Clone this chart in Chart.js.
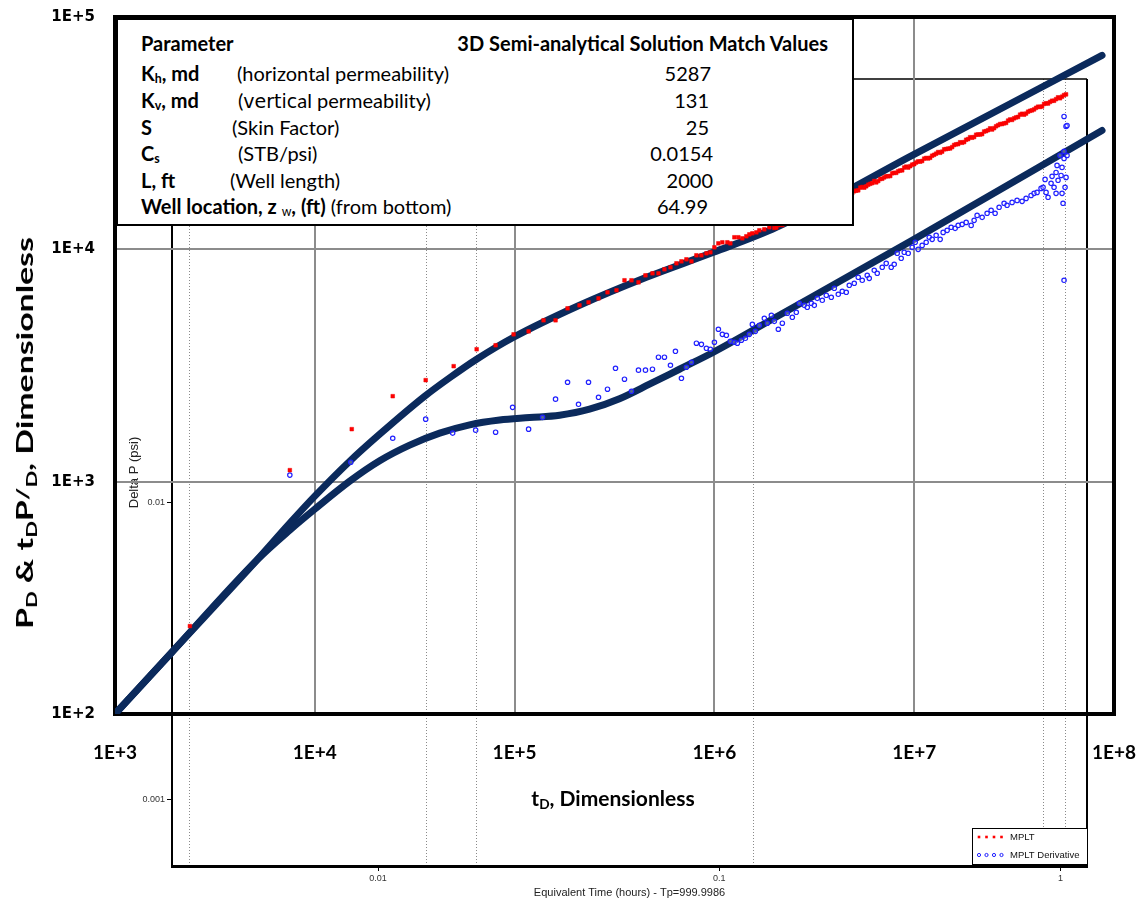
<!DOCTYPE html>
<html>
<head>
<meta charset="utf-8">
<script src="https://cdn.jsdelivr.net/npm/chart.js@4.4.1/dist/chart.umd.min.js"></script>
<style>
html,body{margin:0;padding:0;background:#fff;}
#wrap{position:relative;width:1138px;height:904px;overflow:hidden;font-family:Lato,'Liberation Sans',sans-serif;color:#000;}
canvas{position:absolute;left:0;top:0;}
#inner{z-index:1}
#outer{z-index:2}
.tbl{position:absolute;left:116px;top:18px;width:734px;height:204px;border:2px solid #000;background:#fff;z-index:3;}
.t{position:absolute;font-size:20px;line-height:20px;white-space:nowrap;}
.r{transform:translateX(-100%);}
.b{font-weight:700;}
.t sub{font-size:62%;vertical-align:-0.2em;line-height:0;}
.ttl{position:absolute;z-index:3;font-family:Lato,'Liberation Sans',sans-serif;font-weight:700;white-space:nowrap;line-height:1;}
.ttl sub{font-size:65%;vertical-align:-0.25em;line-height:0;}
.ttl sup{font-size:80%;vertical-align:0.25em;line-height:0;}
#ytitle{left:25px;top:433px;font-size:22px;transform-origin:50% 50%;}
#xtitle{left:613px;top:797px;font-size:21px;transform:translate(-50%,-50%);}
</style>
</head>
<body>
<div id="wrap">
  <canvas id="inner" width="1138" height="904"></canvas>
  <canvas id="outer" width="1138" height="904"></canvas>
  <div class="tbl">
    <div class="t b" style="left:23px;top:13px">Parameter</div>
    <div class="t b r" style="left:710px;top:13px">3D Semi-analytical Solution Match Values</div>

    <div class="t b" style="left:23px;top:43px">K<sub>h</sub>, md</div>
    <div class="t" style="left:119px;top:43px">(horizontal permeability)</div>
    <div class="t r" style="left:593px;top:43px">5287</div>

    <div class="t b" style="left:23px;top:70px">K<sub>v</sub>, md</div>
    <div class="t" style="left:120px;top:70px">(<span style="font-family:'DejaVu Sans';font-size:19px">vertic</span>al permeability)</div>
    <div class="t r" style="left:591px;top:70px">131</div>

    <div class="t b" style="left:23px;top:97px">S</div>
    <div class="t" style="left:114px;top:97px">(Skin Factor)</div>
    <div class="t r" style="left:591px;top:97px">25</div>

    <div class="t b" style="left:23px;top:123px">C<sub>s</sub></div>
    <div class="t" style="left:120px;top:123px">(STB/psi)</div>
    <div class="t r" style="left:595px;top:123px">0.0154</div>

    <div class="t b" style="left:23px;top:150px">L, ft</div>
    <div class="t" style="left:112px;top:150px">(Well length)</div>
    <div class="t r" style="left:595px;top:150px">2000</div>

    <div class="t" style="left:23px;top:176px"><span class="b">Well location, z <sub style="font-weight:400">w</sub>, (ft)</span> (from bottom)</div>
    <div class="t r" style="left:590px;top:176px">64.99</div>
  </div>
  <div id="ytitle" class="ttl">P<sub>D</sub> &amp; t<sub>D</sub>P<sup>/</sup><sub>D</sub>, Dimensionless</div>
  <div id="xtitle" class="ttl">t<sub>D</sub>, Dimensionless</div>
</div>
<script>
// ---------------- Data ----------------
// Outer (dimensionless) axes
const outerXTicks = [1e3, 1e4, 1e5, 1e6, 1e7, 1e8];
const outerYTicks = [1e2, 1e3, 1e4, 1e5];

// Inner (field units) axes
const innerXLabeledTicks = [0.01, 0.1, 1];
const innerYLabeledTicks = [0.001, 0.01];
const innerMarkerTimes = [0.00281, 0.01382, 0.01937, 0.1258, 0.892, 1.034];

// 3D semi-analytical model: P_D
const modelPdT = [1000, 1928, 5129, 7499, 10000, 14960, 21130, 35480, 47320, 64570,
                  98860, 211300, 457100, 988600, 2042000, 9772000, 87100000];
const modelPdV = [100, 184.8, 459.6, 663, 866.2, 1225, 1601, 2332, 2801, 3365,
                  4183, 5742, 7580, 9707, 12430, 25370, 68300];

// 3D semi-analytical model: derivative t_D P'_D
const modelDerT = [1000, 1928, 5129, 7499, 10000, 14960, 21130, 29850, 42170, 59570,
                   84140, 118900, 167900, 237100, 335000, 473200, 668300, 988600, 2113000, 9772000, 87100000];
const modelDerV = [100, 184.8, 459.6, 618.6, 761.6, 1005, 1230, 1436, 1617, 1757,
                   1842, 1887, 1932, 2050, 2275, 2627, 3047, 3606, 5201, 10930, 32500];

// MPLT pressure data
const mpltT = [
  2371, 7500, 15310, 24550, 35890, 49550, 64570, 80350, 98860, 117500,
  139600, 160300, 184100, 211300, 234400, 263000, 291700, 323600, 354800, 384600,
  416900, 451900, 489800, 524800, 562300, 602600, 645700, 683900, 724400, 767400,
  812800, 861000, 912000, 955000, 1000000, 1047000, 1096000, 1161000, 1202000, 1259000,
  1318000, 1380000, 1445000, 1496000, 1549000, 1622000, 1679000, 1778000, 1884000,
  1995000, 2089000, 2188000, 2291000, 2399000, 2512000, 2630000, 2754000, 2884000, 3020000,
  3162000, 3311000, 3467000, 3631000, 3802000, 3981000, 4169000, 4365000, 4571000, 4786000,
  5012000, 5248000, 5495000, 5754000, 6026000, 6310000, 6607000, 6918000, 7244000, 7586000,
  7943000, 8318000, 8710000, 9120000, 9550000, 1.0e7, 1.047e7, 1.096e7, 1.148e7, 1.202e7,
  1.259e7, 1.318e7, 1.380e7, 1.445e7, 1.514e7, 1.585e7, 1.660e7, 1.738e7, 1.820e7, 1.905e7,
  1.995e7, 2.089e7, 2.188e7, 2.291e7, 2.399e7, 2.512e7, 2.630e7, 2.754e7, 2.884e7, 3.020e7,
  3.162e7, 3.311e7, 3.467e7, 3.631e7, 3.802e7, 3.981e7, 4.169e7, 4.365e7, 4.571e7, 4.786e7,
  5.012e7, 5.248e7, 5.495e7, 5.754e7,
  2042000, 2138000, 2239000, 2344000, 2455000, 2570000, 2692000, 2818000, 2951000, 3090000,
  3236000, 3388000, 3548000, 3715000, 3890000, 4074000, 4266000, 4467000, 4677000, 4898000,
  5129000, 5370000, 5623000, 5888000, 6166000, 6457000, 6761000, 7079000, 7413000, 7762000,
  8128000, 8511000, 8913000, 9333000, 9772000, 1.023e7, 1.072e7, 1.122e7, 1.175e7, 1.230e7,
  1.288e7, 1.349e7, 1.413e7, 1.479e7, 1.549e7, 1.622e7, 1.698e7, 1.778e7, 1.862e7, 1.950e7,
  2.042e7, 2.138e7, 2.239e7, 2.344e7, 2.455e7, 2.570e7, 2.692e7, 2.818e7, 2.951e7, 3.090e7,
  3.236e7, 3.388e7, 3.548e7, 3.715e7, 3.890e7, 4.074e7, 4.266e7, 4.467e7, 4.677e7, 4.898e7,
  5.129e7, 5.370e7, 5.623e7
];
const mpltV = [
  239, 1121, 1683, 2333, 2735, 3141, 3715, 3864, 4306, 4436,
  4950, 4950, 5572, 5741, 5916, 6152, 6531, 6668, 7358, 7358,
  7211, 7728, 7885, 7885, 8204, 8368, 8705, 8878, 9056, 8878,
  9423, 9423, 9613, 9708, 10200, 10610, 10720, 10720, 10610, 11270,
  11270, 11150, 11380, 11600, 11720, 11830, 12070, 12190, 12440,
  12360, 12700, 12720, 13110, 13470, 13460, 13800, 13890, 14380, 14540,
  14970, 14960, 15420, 15600, 16060, 16050, 16500, 16920, 17030, 17630,
  17780, 17940, 18560, 18680, 19150, 19690, 19680, 20130, 20630, 20680,
  21350, 21690, 21880, 22700, 22800, 23260, 23910, 24010, 24730, 24780,
  25520, 26230, 26340, 27010, 27180, 28130, 28380, 28760, 29620, 30380,
  30440, 31210, 31340, 32280, 33170, 33240, 34230, 34620, 35010, 36230,
  36630, 37130, 38330, 38410, 39470, 40020, 41110, 41200, 42530, 43110,
  43590, 45110, 45410, 46450,
  12410, 12790, 12960, 13040, 13460, 13800, 13860, 14250, 14310, 14810,
  14940, 15150, 15670, 15810, 15950, 16430, 16810, 16920, 17380, 17500,
  17890, 18440, 18430, 18980, 19280, 19410, 20080, 20400, 20630, 21250,
  21340, 21840, 22490, 22480, 23160, 23640, 23850, 24570, 24610, 25290,
  25810, 26040, 26950, 27130, 27560, 28320, 28900, 28960, 29820, 30230,
  31140, 31210, 32140, 32580, 32790, 33860, 34620, 34860, 35820, 36060,
  36970, 38000, 37980, 39120, 39650, 40650, 41010, 42250, 42420, 43610,
  44300, 44700, 46130
];

// MPLT derivative data
const mpltDerT = [
  7500, 15140, 24550, 35890, 48980, 63830, 80350, 97720, 117500, 138000,
  160300, 184100, 208900, 234400, 263000, 291700, 319900, 354800, 384600, 416900,
  451900, 489800, 524800, 562300, 602600, 638300, 683900, 724400, 767400, 812800,
  861000, 912000, 955000, 1000000, 1047000, 1096000, 1148000, 1202000, 1259000, 1303000,
  1365000, 1429000, 1496000, 1549000, 1603000, 1679000, 1778000, 1841000, 1928000, 1995000,
  2089000, 2188000, 2317000, 2455000, 2570000, 2661000, 2818000, 2917000, 3055000, 3162000,
  3273000, 3467000, 3631000, 3846000, 3981000, 4169000, 4365000, 4571000, 4732000, 5012000,
  5248000, 5495000, 5821000, 5957000, 6310000, 6531000, 6918000, 7244000, 7674000, 7943000,
  8222000, 8610000, 8913000, 9333000, 9772000, 1.012e7, 1.047e7, 1.096e7, 1.148e7, 1.189e7,
  1.230e7, 1.288e7, 1.349e7, 1.396e7, 1.462e7, 1.531e7, 1.603e7, 1.660e7, 1.738e7, 1.820e7,
  1.928e7, 1.995e7, 2.065e7, 2.188e7, 2.317e7, 2.427e7, 2.541e7, 2.661e7, 2.818e7, 2.917e7,
  3.090e7, 3.273e7, 3.467e7, 3.631e7, 3.846e7, 3.981e7, 4.121e7, 4.315e7, 4.416e7, 4.519e7,
  4.571e7, 4.677e7, 4.842e7, 4.898e7, 5.012e7, 5.129e7, 5.129e7, 5.188e7, 5.248e7, 5.370e7,
  5.433e7, 5.495e7, 5.495e7, 5.559e7, 5.623e7, 5.623e7, 5.689e7, 5.623e7, 5.623e7, 5.754e7,
  5.821e7, 5.754e7, 5.821e7
];
const mpltDerV = [
  1067, 1213, 1538, 1858, 1618, 1666, 1633, 2089, 1683, 1892,
  2265, 2679, 2153, 2679, 2307, 2500, 3076, 2761, 2449, 3020,
  3020, 3048, 3433, 3433, 3170, 3640, 2786, 3108, 3266, 3945,
  3899, 3750, 3715, 3981, 4529, 4306, 4266, 4018, 3981, 3945,
  4064, 4140, 4306, 4753, 4436, 4710, 5047, 4808, 5200, 4898,
  4529, 4808, 5305, 5099, 5358, 5857, 5741, 5630, 5857, 5741,
  6152, 6035, 6342, 6217, 6797, 6405, 6597, 6531, 7000, 7141,
  7580, 7358, 7728, 7502, 8123, 7885, 8368, 8705, 8368, 8620,
  9613, 9149, 9708, 9613, 10200, 10720, 10000, 10400, 10720, 11270,
  11040, 11490, 11040, 11830, 12070, 12440, 12310, 12680, 12810, 13060,
  12680, 13330, 14000, 13730, 14290, 14720, 14290, 15170, 15780, 15470,
  15920, 16240, 16090, 16570, 17060, 17420, 17580, 18290, 18490, 20000,
  17580, 16750, 19230, 20610, 18490, 21430, 17420, 22970, 19820, 25360,
  20800, 22530, 17420, 15780, 26400, 24620, 18490, 7358, 37330, 33810,
  34140, 20400, 25360
];

// ---------------- helpers ----------------
const pts = (xs, ys) => xs.map((x, i) => ({x: x, y: ys[i]}));
const fmtE = v => '1E+' + Math.round(Math.log10(v));
const SMALL = "'Liberation Sans', Arial, sans-serif";
const TRANSP = 'rgba(0,0,0,0)';
const isLabeledX = v => innerXLabeledTicks.some(t => Math.abs(t - v) / t < 1e-6);

// ---------------- inner (background) chart ----------------
const innerFrame = {
  id: 'innerFrame',
  afterDraw(chart) {
    const {ctx, chartArea: a} = chart;
    ctx.save();
    ctx.strokeStyle = '#000';
    ctx.lineWidth = 1.5;
    ctx.beginPath(); ctx.moveTo(a.left, a.top); ctx.lineTo(a.right, a.top); ctx.stroke();
    ctx.lineWidth = 2;
    ctx.beginPath(); ctx.moveTo(a.right, a.top); ctx.lineTo(a.right, a.bottom); ctx.stroke();
    ctx.restore();
  }
};
const boxLegend = {
  id: 'boxLegend',
  afterDraw(chart) {
    const {ctx, chartArea: a} = chart;
    const w = 115, h = 36, x = a.right - w, y = a.bottom - h - 2;
    ctx.save();
    ctx.fillStyle = '#fff';
    ctx.fillRect(x, y, w, h);
    ctx.strokeStyle = '#000'; ctx.lineWidth = 1;
    ctx.strokeRect(x + 0.5, y + 0.5, w, h);
    chart.data.datasets.forEach((ds, i) => {
      const cy = y + 9 + i * 18;
      for (let k = 0; k < 4; k++) {
        const cx = x + 7 + k * 7.5;
        if (ds.pointStyle === 'rect') {
          ctx.fillStyle = ds.borderColor;
          ctx.fillRect(cx - 1.3, cy - 1.3, 2.6, 2.6);
        } else {
          ctx.strokeStyle = ds.borderColor; ctx.lineWidth = 1;
          ctx.beginPath(); ctx.arc(cx, cy, 1.6, 0, Math.PI * 2); ctx.stroke();
        }
      }
      ctx.fillStyle = '#111';
      ctx.font = '9.5px ' + SMALL;
      ctx.textBaseline = 'middle';
      ctx.fillText(ds.label, x + 38, cy);
    });
    ctx.restore();
  }
};

new Chart(document.getElementById('inner'), {
  type: 'scatter',
  data: {
    datasets: [
      {label: 'MPLT', data: [], pointStyle: 'rect', borderColor: '#ff0000', backgroundColor: '#ff0000'},
      {label: 'MPLT Derivative', data: [], pointStyle: 'circle', borderColor: '#2020ff', backgroundColor: TRANSP}
    ]
  },
  options: {
    responsive: false, animation: false, devicePixelRatio: 1,
    layout: {padding: {left: 0, top: 79, right: 51, bottom: 0}},
    plugins: {legend: {display: false}, tooltip: {enabled: false}},
    scales: {
      x: {
        type: 'logarithmic', position: 'bottom', min: 0.00249, max: 1.195,
        afterFit(s) { s.height = 38; },
        afterBuildTicks(s) {
          s.ticks = innerXLabeledTicks.concat(innerMarkerTimes).sort((p, q) => p - q).map(v => ({value: v}));
        },
        ticks: {
          autoSkip: false, maxRotation: 0, padding: 2, color: '#333',
          font: {family: SMALL, size: 9},
          callback: v => (isLabeledX(v) ? String(v) : '')
        },
        grid: {
          drawOnChartArea: true, drawTicks: true, tickLength: 5, lineWidth: 1, tickWidth: 1,
          color: c => (c.tick && !isLabeledX(c.tick.value) ? '#8a8a8a' : TRANSP),
          tickColor: c => (c.tick && isLabeledX(c.tick.value) ? '#000' : TRANSP)
        },
        border: {display: true, color: '#000', width: 3, dash: [1, 2]},
        title: {
          display: true, text: 'Equivalent Time (hours) - Tp=999.9986', color: '#222',
          font: {family: SMALL, size: 11}, padding: {top: 0, bottom: 4}
        }
      },
      y: {
        type: 'logarithmic', position: 'left', min: 0.0006156, max: 0.2639,
        afterFit(s) { s.width = 172; },
        afterBuildTicks(s) { s.ticks = innerYLabeledTicks.map(v => ({value: v})); },
        ticks: {padding: 2, color: '#333', font: {family: SMALL, size: 9}, callback: v => String(v)},
        grid: {drawOnChartArea: false, drawTicks: true, tickLength: 5, tickColor: '#000', tickWidth: 1},
        border: {display: true, color: '#000', width: 2},
        title: {
          display: true, text: 'Delta P (psi)', color: '#222',
          font: {family: SMALL, size: 13}, padding: {top: 127, bottom: 0}
        }
      }
    }
  },
  plugins: [innerFrame, boxLegend]
});

// ---------------- outer (type-curve) chart ----------------
const outerFrame = {
  id: 'outerFrame',
  beforeDatasetsDraw(chart) {
    const {ctx, chartArea: a} = chart;
    ctx.save();
    ctx.strokeStyle = '#000'; ctx.lineWidth = 4;
    ctx.strokeRect(a.left, a.top, a.right - a.left, a.bottom - a.top);
    ctx.restore();
  }
};

const NAVY = '#0b2a5c';
new Chart(document.getElementById('outer'), {
  type: 'scatter',
  data: {
    datasets: [
      {label: 'MPLT', data: pts(mpltT, mpltV), pointStyle: 'rect', pointRadius: 2.6,
       pointBackgroundColor: '#ff0000', pointBorderColor: '#ee0000', pointBorderWidth: 0.5, order: 0},
      {label: 'MPLT Derivative', data: pts(mpltDerT, mpltDerV), pointStyle: 'circle', pointRadius: 2.2,
       pointBackgroundColor: 'rgba(255,255,255,0.3)', pointBorderColor: '#2020ff', pointBorderWidth: 1.2, order: 1},
      {label: 'Model P_D', data: pts(modelPdT, modelPdV), showLine: true, borderColor: NAVY, borderWidth: 7,
       pointRadius: 0, cubicInterpolationMode: 'monotone', borderCapStyle: 'round', borderJoinStyle: 'round', order: 2},
      {label: 'Model derivative', data: pts(modelDerT, modelDerV), showLine: true, borderColor: NAVY, borderWidth: 7,
       pointRadius: 0, cubicInterpolationMode: 'monotone', borderCapStyle: 'round', borderJoinStyle: 'round', order: 3}
    ]
  },
  options: {
    responsive: false, animation: false, devicePixelRatio: 1,
    layout: {padding: {left: 0, top: 17, right: 24, bottom: 0}},
    plugins: {legend: {display: false}, tooltip: {enabled: false}},
    scales: {
      x: {
        type: 'logarithmic', position: 'bottom', min: 1e3, max: 1e8,
        afterFit(s) { s.height = 190; },
        afterBuildTicks(s) { s.ticks = outerXTicks.map(v => ({value: v})); },
        ticks: {autoSkip: false, maxRotation: 0, padding: 0, color: '#000',
                font: {family: 'Lato', weight: 'bold', size: 19}, callback: v => fmtE(v)},
        grid: {color: '#8c8c8c', lineWidth: 2, drawTicks: true, tickLength: 27, tickColor: TRANSP},
        border: {display: false}
      },
      y: {
        type: 'logarithmic', position: 'left', min: 1e2, max: 1e5,
        afterFit(s) { s.width = 115; },
        afterBuildTicks(s) { s.ticks = outerYTicks.map(v => ({value: v})); },
        ticks: {padding: 0, color: '#000',
                font: {family: "'DejaVu Sans'", weight: 'bold', size: 15}, callback: v => fmtE(v)},
        grid: {color: '#8c8c8c', lineWidth: 2, drawTicks: true, tickLength: 20, tickColor: TRANSP},
        border: {display: false}
      }
    }
  },
  plugins: [outerFrame]
});

// stretch the vertical axis title along its length, as in the picture
(function () {
  const el = document.getElementById('ytitle');
  const k = 392 / el.offsetWidth;
  el.style.transform = 'translate(-50%,-50%) rotate(-90deg) scaleX(' + k.toFixed(3) + ')';
})();
</script>
</body>
</html>
